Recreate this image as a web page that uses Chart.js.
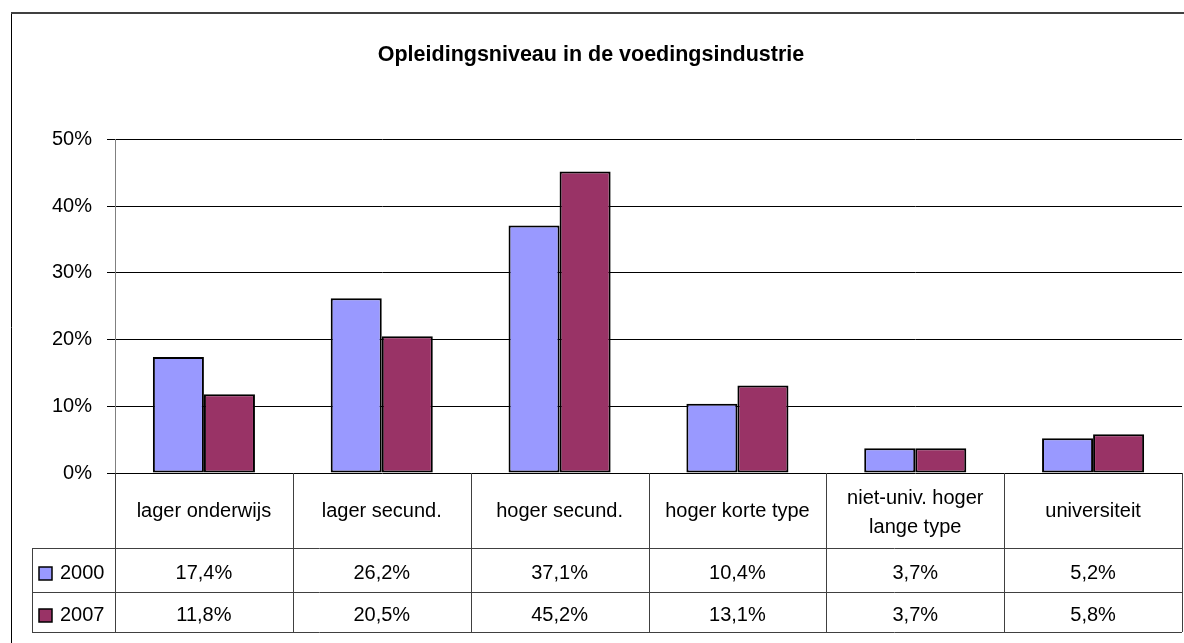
<!DOCTYPE html>
<html>
<head>
<meta charset="utf-8">
<script src="https://cdn.jsdelivr.net/npm/chart.js@4/dist/chart.umd.min.js"></script>
<style>
  body { margin: 0; background: #fff; }
  canvas { display: block; }
</style>
</head>
<body>
<canvas id="myChart" width="1184" height="643"></canvas>
<script>
const categories = ['lager onderwijs', 'lager secund.', 'hoger secund.', 'hoger korte type', ['niet-univ. hoger', 'lange type'], 'universiteit']
const seriesNames = ['2000', '2007']
const values2000 = [17.4, 26.2, 37.1, 10.4, 3.7, 5.2]
const values2007 = [11.8, 20.5, 45.2, 13.1, 3.7, 5.8]
const seriesColors = ['#9999FF', '#993366']

const labelFont = '"Liberation Sans", Arial, sans-serif'

function fmt(v) {
    return v.toFixed(1).replace('.', ',') + '%'
}

// data table under the plot + outer frame
const tablePlugin = {
    id: 'dataTable',
    afterDraw(chart) {
        const ctx = chart.ctx
        const area = chart.chartArea
        const colW = (area.right - area.left) / categories.length
        const rowTop = area.bottom
        const row1 = 548, row2 = 592, rowEnd = 632
        const legendLeft = 32

        ctx.save()
        ctx.strokeStyle = '#404040'
        ctx.lineWidth = 1
        ctx.beginPath()
        for (let i = 0; i <= categories.length; i++) {
            let x = Math.round(area.left + i * colW) + 0.5
            ctx.moveTo(x, rowTop)
            ctx.lineTo(x, rowEnd)
        }
        ctx.moveTo(legendLeft + 0.5, row1)
        ctx.lineTo(legendLeft + 0.5, rowEnd)
        for (let y of [row1, row2, rowEnd]) {
            ctx.moveTo(legendLeft, y + 0.5)
            ctx.lineTo(area.right, y + 0.5)
        }
        ctx.stroke()

        ctx.fillStyle = '#000'
        ctx.font = '20px ' + labelFont
        ctx.textAlign = 'center'
        ctx.textBaseline = 'middle'
        const xs = chart.scales.x
        categories.forEach((c, i) => {
            let cx = xs.getPixelForValue(i)
            if (Array.isArray(c)) {
                ctx.fillText(c[0], cx, 498)
                ctx.fillText(c[1], cx, 527)
            } else {
                ctx.fillText(c, cx, 511)
            }
        })

        const rows = [values2000, values2007]
        const rowMid = [(row1 + row2) / 2 + 3, (row2 + rowEnd) / 2 + 3]
        rows.forEach((vals, r) => {
            vals.forEach((v, i) => {
                ctx.fillText(fmt(v), xs.getPixelForValue(i), rowMid[r])
            })
            // legend key
            ctx.fillStyle = seriesColors[r]
            ctx.fillRect(39, rowMid[r] - 6, 13, 13)
            ctx.strokeStyle = '#000'
            ctx.lineWidth = 1.5
            ctx.strokeRect(39, rowMid[r] - 6, 13, 13)
            ctx.fillStyle = '#000'
            ctx.textAlign = 'left'
            ctx.fillText(seriesNames[r], 60, rowMid[r])
            ctx.textAlign = 'center'
        })

        // outer frame
        ctx.strokeStyle = '#000'
        ctx.lineWidth = 1
        ctx.beginPath()
        ctx.moveTo(11.5, 12)
        ctx.lineTo(11.5, 643)
        ctx.stroke()
        ctx.strokeStyle = '#404040'
        ctx.lineWidth = 2
        ctx.beginPath()
        ctx.moveTo(11, 13)
        ctx.lineTo(1184, 13)
        ctx.stroke()
        ctx.restore()
    }
}

function renderChart() {
    let ctx = document.getElementById('myChart').getContext('2d')
    new Chart(ctx, {
        type: 'bar',
        data: {
            labels: categories,
            datasets: [{
                label: seriesNames[0],
                data: values2000,
                backgroundColor: seriesColors[0],
                borderColor: '#000',
                borderWidth: 2,
                borderSkipped: false
            }, {
                label: seriesNames[1],
                data: values2007,
                backgroundColor: seriesColors[1],
                borderColor: '#000',
                borderWidth: 2,
                borderSkipped: false
            }]
        },
        options: {
            responsive: false,
            animation: false,
            categoryPercentage: 0.574,
            barPercentage: 1,
            layout: {
                padding: { left: 0, right: 2, top: 0, bottom: 170 }
            },
            scales: {
                x: { display: false },
                y: {
                    min: 0,
                    max: 50,
                    afterFit(scale) { scale.width = 115 },
                    ticks: {
                        stepSize: 10,
                        padding: 15,
                        color: '#000',
                        font: { family: labelFont, size: 20 },
                        callback: v => v + '%'
                    },
                    grid: { color: '#000', lineWidth: 1, tickLength: 8 },
                    border: { display: true, color: '#808080', width: 1 }
                }
            },
            plugins: {
                legend: { display: false },
                tooltip: { enabled: false },
                title: {
                    display: true,
                    text: 'Opleidingsniveau in de voedingsindustrie',
                    color: '#000',
                    font: { family: 'Arial, "Liberation Sans", sans-serif', size: 21.5, weight: 'bold', lineHeight: 1.2 },
                    padding: { top: 42, bottom: 71.7 }
                }
            }
        },
        plugins: [tablePlugin]
    })
}

renderChart()
</script>
</body>
</html>
